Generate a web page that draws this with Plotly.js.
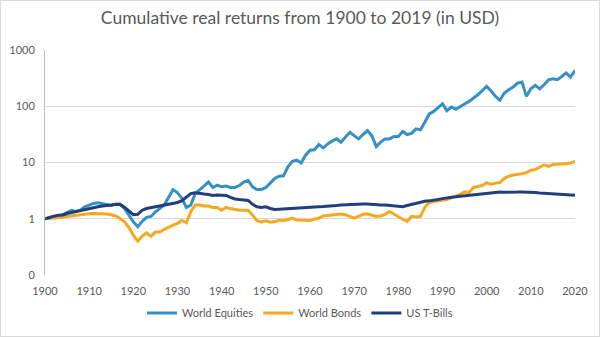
<!DOCTYPE html>
<html>
<head>
<meta charset="utf-8">
<script src="https://cdn.plot.ly/plotly-3.0.1.min.js"></script>
<style>
html,body{margin:0;padding:0;background:#fff;}
#chart{width:600px;height:337px;box-sizing:border-box;border:1px solid #d9d9d9;}
</style>
</head>
<body>
<div id="chart"></div>
<script>
const years = [];
for (let y = 1900; y <= 2020; y++) years.push(y);

const worldEquities = [
1.00,1.06,1.10,1.08,1.18,1.33,1.41,1.35,1.42,1.63,
1.75,1.87,1.92,1.87,1.80,1.73,1.82,1.82,1.52,1.16,
0.88,0.72,0.90,1.06,1.10,1.33,1.52,1.75,2.40,3.30,
2.90,2.30,1.59,1.75,2.80,3.20,3.80,4.50,3.60,3.95,
3.70,3.80,3.60,3.60,3.90,4.50,4.80,3.70,3.30,3.30,
3.60,4.30,5.20,5.70,5.80,8.40,10.5,11.0,9.8,13.5,
16.5,16.8,20.9,18.2,21.4,24.0,26.3,23.0,28.0,34.5,
30.0,26.3,31.4,37.0,30.0,19.2,23.0,26.3,26.3,29.0,
29.0,35.5,31.4,33.0,39.6,38.0,52,73,81,96,
111,83,97,88,100,110,122,138,160,190,
226,187,150,128,172,197,220,258,270,150,
205,235,205,241,296,309,296,339,389,330,
433];

const worldBonds = [
1.00,1.01,1.01,1.04,1.07,1.10,1.13,1.13,1.18,1.21,
1.23,1.24,1.24,1.23,1.21,1.18,1.12,1.01,0.88,0.70,
0.51,0.40,0.49,0.56,0.49,0.58,0.58,0.65,0.72,0.77,
0.83,0.93,0.85,1.33,1.75,1.75,1.68,1.68,1.59,1.59,
1.42,1.59,1.52,1.46,1.42,1.42,1.40,1.16,0.92,0.88,
0.92,0.87,0.88,0.95,0.92,0.97,1.03,0.95,0.95,0.94,
0.93,0.98,1.03,1.12,1.15,1.18,1.20,1.21,1.18,1.12,
1.03,1.10,1.20,1.22,1.15,1.10,1.12,1.20,1.35,1.20,
1.08,0.98,0.90,1.10,1.07,1.10,1.60,1.95,2.02,2.07,
2.12,2.20,2.35,2.50,2.72,3.00,2.92,3.60,3.80,3.90,
4.37,4.10,4.30,4.40,5.20,5.70,6.00,6.10,6.30,6.60,
7.30,7.50,8.20,9.10,8.50,9.20,9.30,9.35,9.50,9.80,
10.4];

const usTBills = [
1.00,1.06,1.11,1.15,1.16,1.24,1.29,1.35,1.39,1.48,
1.53,1.59,1.63,1.68,1.70,1.75,1.80,1.80,1.60,1.35,
1.18,1.20,1.42,1.52,1.58,1.62,1.66,1.72,1.80,1.86,
1.95,2.10,2.40,2.80,2.90,2.80,2.75,2.70,2.60,2.65,
2.65,2.60,2.40,2.25,2.20,2.15,2.12,1.80,1.63,1.59,
1.63,1.52,1.46,1.48,1.50,1.52,1.53,1.55,1.60,1.62,
1.62,1.63,1.64,1.65,1.66,1.68,1.72,1.76,1.78,1.80,
1.80,1.81,1.83,1.82,1.78,1.75,1.75,1.75,1.72,1.70,
1.67,1.63,1.72,1.80,1.88,1.95,2.05,2.08,2.12,2.20,
2.28,2.38,2.42,2.45,2.50,2.55,2.60,2.65,2.72,2.80,
2.88,2.95,2.98,3.00,2.97,2.95,2.95,2.98,3.00,3.00,
2.97,2.93,2.88,2.84,2.80,2.76,2.72,2.68,2.64,2.63,
2.62];

const xTicks = [1900,1910,1920,1930,1940,1950,1960,1970,1980,1990,2000,2010,2020];
const yTickVals = [0.1,1,10,100,1000];
const yTickText = ["0","1","10","100","1000"];

const FONT = "Lato, 'Open Sans', sans-serif";
const TXT = "#595959";

const traces = [
  {x: years, y: worldEquities, name: "World Equities", mode: "lines",
   line: {color: "#3490c6", width: 3}},
  {x: years, y: worldBonds, name: "World Bonds", mode: "lines",
   line: {color: "#f6a822", width: 3}},
  {x: years, y: usTBills, name: "US T-Bills", mode: "lines",
   line: {color: "#213f7e", width: 3}}
];

const layout = {
  width: 598, height: 335,
  margin: {l: 44, r: 24, t: 48.5, b: 61},
  paper_bgcolor: "#fff", plot_bgcolor: "#fff",
  font: {family: FONT, color: TXT, size: 11},
  title: {text: "Cumulative real returns from 1900 to 2019 (in USD)",
          font: {family: FONT, size: 17.5, color: TXT},
          x: 0.5, xref: "container", xanchor: "center",
          y: 1 - 17/335, yref: "container", yanchor: "middle"},
  xaxis: {range: [1900, 2020], tickvals: xTicks, ticktext: xTicks.map(String),
          showgrid: false, zeroline: false, showline: false,
          ticks: "", ticklabelstandoff: 8,
          tickfont: {family: FONT, size: 11, color: TXT}},
  yaxis: {type: "log", range: [-1, 3], tickvals: yTickVals, ticktext: yTickText,
          showgrid: true, gridcolor: "#d9d9d9", gridwidth: 1,
          zeroline: false, showline: true, linecolor: "#bfbfbf", linewidth: 1,
          ticks: "", ticklabelstandoff: 7,
          tickfont: {family: FONT, size: 11, color: TXT}},
  shapes: [
    {type: "line", xref: "paper", x0: 0, x1: 1, yref: "y", y0: 0, y1: 0,
     line: {color: "#a6a6a6", width: 1}, layer: "below"},
    {type: "line", xref: "paper", x0: 0, x1: 1, yref: "y", y0: -1, y1: -1,
     line: {color: "#bfbfbf", width: 1}, layer: "below"}
  ],
  showlegend: true,
  legend: {orientation: "h", x: 0.5, xref: "container", xanchor: "center",
           y: 1 - 312/335, yref: "container", yanchor: "middle",
           font: {family: FONT, size: 11, color: TXT},
           itemwidth: 30, tracegroupgap: 0}
};

Plotly.newPlot("chart", traces, layout, {displayModeBar: false, staticPlot: true});
</script>
</body>
</html>
